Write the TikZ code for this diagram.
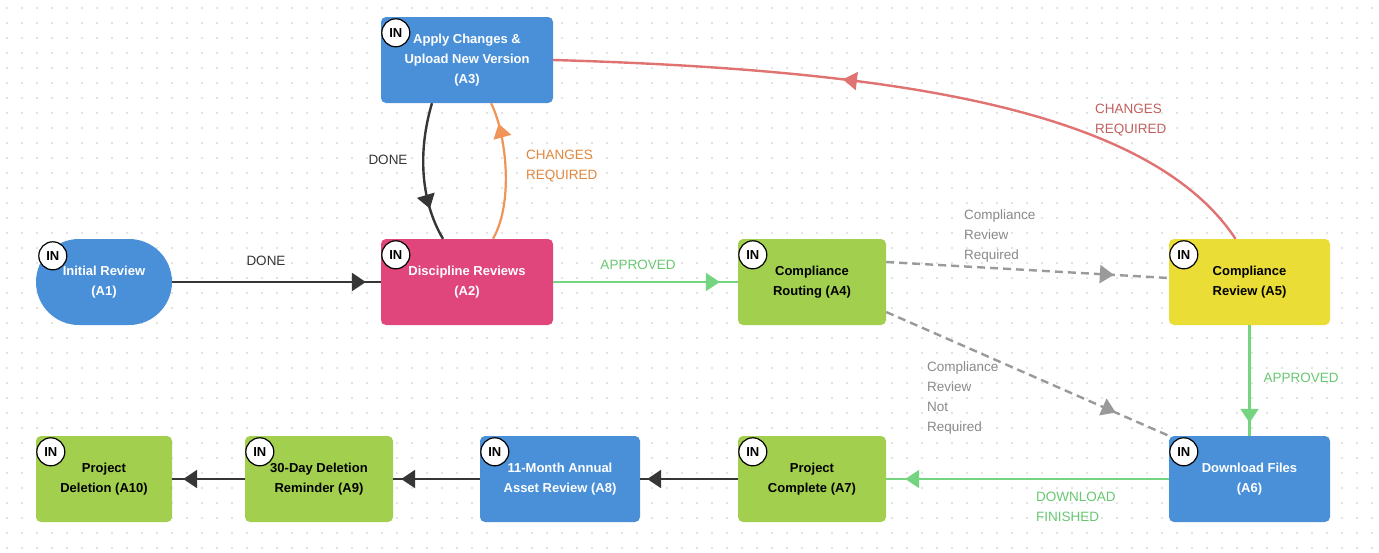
\documentclass[tikz,border=0pt]{standalone}
\usepackage{fontspec}
\setmainfont{Liberation Sans}
\usetikzlibrary{arrows.meta,decorations.markings}
\definecolor{nblue}{HTML}{4A90D9}
\definecolor{npink}{HTML}{E0457B}
\definecolor{ngreen}{HTML}{A3CF4E}
\definecolor{nyellow}{HTML}{EADD35}
\definecolor{edark}{HTML}{363636}
\definecolor{egreen}{HTML}{74D47F}
\definecolor{lgreen}{HTML}{68C872}
\definecolor{egray}{HTML}{9A9A9A}
\definecolor{lgray}{HTML}{8A8A8A}
\definecolor{eorange}{HTML}{F09458}
\definecolor{lorange}{HTML}{E0873E}
\definecolor{ered}{HTML}{E07272}
\definecolor{lred}{HTML}{C0605F}
\definecolor{dotc}{HTML}{C8C8C8}
\begin{document}
\begin{tikzpicture}[x=1pt,y=-1pt,
  box/.style={draw=none, rounded corners=5pt, inner sep=0pt, align=center,
    minimum height=86pt, font=\fontsize{13}{20}\selectfont\bfseries},
  incirc/.style={circle, draw=black, fill=white, line width=1.2pt, minimum size=28pt,
    inner sep=0pt, font=\fontsize{13}{13}\selectfont\bfseries},
  lab/.style={font=\fontsize{13.5}{20}\selectfont, inner sep=0pt, align=left},
  tipat/.style={postaction={decorate,decoration={markings,
      mark=at position #1 with {\arrow{Triangle[length=14pt,width=18pt]}}}}},
  darkedge/.style={draw=edark, line width=2.4pt},
  greenedge/.style={draw=egreen, line width=2.2pt},
  dashedge/.style={draw=egray, line width=2.4pt, dash pattern=on 8pt off 5pt},
  orangeedge/.style={draw=eorange, line width=2.2pt},
  rededge/.style={draw=ered, line width=2.4pt}
]
\useasboundingbox (0,0) rectangle (1379,552);
\fill[white] (0,0) rectangle (1379,552);
\foreach \i in {0,...,91}{
  \foreach \j in {0,...,36}{
    \fill[dotc] (7+15*\i, 8+15*\j) circle (0.8);
  }
}

% nodes
\node[box, fill=nblue, text=white, minimum width=136pt, rounded corners=43pt] (a1) at (104,282) {Initial Review\\(A1)};
\node[box, fill=npink, text=white, minimum width=172pt] (a2) at (467,282) {Discipline Reviews\\(A2)};
\node[box, fill=nblue, text=white, minimum width=172pt] (a3) at (467,60) {Apply Changes \&\\Upload New Version\\(A3)};
\node[box, fill=ngreen, text=black, minimum width=148pt] (a4) at (812,282) {Compliance\\Routing (A4)};
\node[box, fill=nyellow, text=black, minimum width=161pt] (a5) at (1249.5,282) {Compliance\\Review (A5)};
\node[box, fill=nblue, text=white, minimum width=161pt] (a6) at (1249.5,479) {Download Files\\(A6)};
\node[box, fill=ngreen, text=black, minimum width=148pt] (a7) at (812,479) {Project\\Complete (A7)};
\node[box, fill=nblue, text=white, minimum width=160pt] (a8) at (560,479) {11-Month Annual\\Asset Review (A8)};
\node[box, fill=ngreen, text=black, minimum width=148pt] (a9) at (319,479) {30-Day Deletion\\Reminder (A9)};
\node[box, fill=ngreen, text=black, minimum width=136pt] (a10) at (104,479) {Project\\Deletion (A10)};

% edges
\draw[darkedge, tipat=-15pt] (a1) -- (a2);
\draw[greenedge, tipat=-18pt] (a2) -- (a4);
\draw[dashedge, tipat=-55pt] ([yshift=20pt]a4.east) -- ([yshift=4pt]a5.west);
\draw[dashedge, tipat=-58pt] ([yshift=-30pt]a4.east) -- (a6.north west);
\draw[greenedge, tipat=-13pt] (a5) -- (a6);
\draw[greenedge, tipat=-19pt] (a6) -- (a7);
\draw[darkedge, tipat=-7pt] (a7) -- (a8);
\draw[darkedge, tipat=-8pt] (a8) -- (a9);
\draw[darkedge, tipat=-11pt] (a9) -- (a10);
\draw[orangeedge, tipat=-22pt] ([xshift=26pt]a2.north) .. controls (515,200) and (505,130) .. ([xshift=24pt]a3.south);
\draw[darkedge, tipat=-33pt] ([xshift=-35pt]a3.south) .. controls (418,150) and (420,200) .. ([xshift=-24pt]a2.north);
\draw[rededge, tipat=0.6] ([xshift=-14pt]a5.north) .. controls (1150,110) and (900,70) .. (a3.east);

% IN markers
\node[incirc] (i1) at ([xshift=17pt,yshift=-17pt]a1.north west) {IN};
\node[incirc] (i2) at ([xshift=15pt,yshift=-16pt]a2.north west) {IN};
\node[incirc] (i3) at ([xshift=15pt,yshift=-16pt]a3.north west) {IN};
\node[incirc] (i4) at ([xshift=15pt,yshift=-16pt]a4.north west) {IN};
\node[incirc] (i5) at ([xshift=15pt,yshift=-16pt]a5.north west) {IN};
\node[incirc] (i6) at ([xshift=15pt,yshift=-16pt]a6.north west) {IN};
\node[incirc] (i7) at ([xshift=15pt,yshift=-16pt]a7.north west) {IN};
\node[incirc] (i8) at ([xshift=15pt,yshift=-16pt]a8.north west) {IN};
\node[incirc] (i9) at ([xshift=15pt,yshift=-16pt]a9.north west) {IN};
\node[incirc] (i10) at ([xshift=15pt,yshift=-16pt]a10.north west) {IN};

% labels
\node[lab, text=edark] (l1) at (266,261) {DONE};
\node[lab, text=lgreen] (l2) at (638,265) {APPROVED};
\node[lab, text=edark] (l3) at (388,160) {DONE};
\node[lab, text=lorange, anchor=west] (l4) at (526,166) {CHANGES\\REQUIRED};
\node[lab, text=lred, anchor=west] (l5) at (1095,120) {CHANGES\\REQUIRED};
\node[lab, text=lgray, anchor=west] (l6) at (964,236) {Compliance\\Review\\Required};
\node[lab, text=lgray, anchor=west] (l7) at (927,398) {Compliance\\Review\\Not\\Required};
\node[lab, text=lgreen] (l8) at (1301,378) {APPROVED};
\node[lab, text=lgreen, anchor=west] (l9) at (1036,507) {DOWNLOAD\\FINISHED};
\end{tikzpicture}
\end{document}
